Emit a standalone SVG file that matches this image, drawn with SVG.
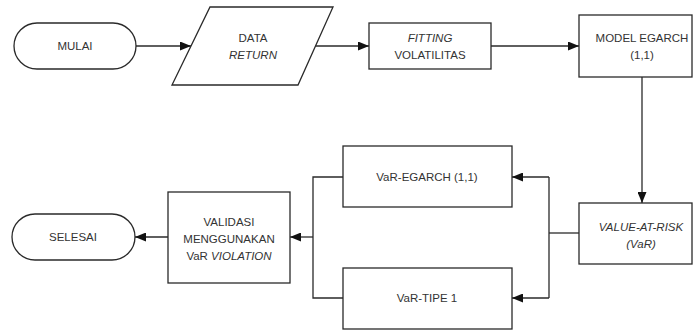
<svg xmlns="http://www.w3.org/2000/svg" width="694" height="331" viewBox="0 0 694 331">
<style>
.s{fill:#fff;stroke:#2a2a2a;stroke-width:1.3}
.t{font-family:"Liberation Sans",Arial,sans-serif;font-size:11.5px;fill:#333;text-anchor:middle}
.i{font-style:italic}
.c{fill:none;stroke:#2a2a2a;stroke-width:1.3}
</style>
<defs>
<marker id="ah" markerUnits="userSpaceOnUse" markerWidth="11" markerHeight="9" refX="11" refY="4.5" orient="auto">
<path d="M0,0 L11,4.5 L0,9 z" fill="#111"/>
</marker>
</defs>
<rect width="694" height="331" fill="#fff"/>
<g id="connectors">
<line class="c" x1="136" y1="46" x2="191" y2="46" marker-end="url(#ah)"/>
<line class="c" x1="315.5" y1="46" x2="369" y2="46" marker-end="url(#ah)"/>
<line class="c" x1="491" y1="46" x2="579" y2="46" marker-end="url(#ah)"/>
<line class="c" x1="642" y1="77" x2="642" y2="203" marker-end="url(#ah)"/>
<polyline class="c" points="579,233 549,233"/>
<polyline class="c" points="549,177 549,298"/>
<line class="c" x1="549" y1="177" x2="512" y2="177" marker-end="url(#ah)"/>
<line class="c" x1="549" y1="298" x2="512" y2="298" marker-end="url(#ah)"/>
<polyline class="c" points="343,177 313,177 313,298 343,298"/>
<line class="c" x1="313" y1="237" x2="290" y2="237" marker-end="url(#ah)"/>
<line class="c" x1="168" y1="237" x2="135" y2="237" marker-end="url(#ah)"/>
</g>
<g id="mulai">
<rect class="s" x="14" y="23" width="122" height="46" rx="23"/>
<text class="t" x="75" y="50">MULAI</text>
</g>
<g id="data-return">
<polygon class="s" points="210,7 333,7 298,85 172,85"/>
<text class="t" x="253" y="42">DATA</text>
<text class="t i" x="253" y="59">RETURN</text>
</g>
<g id="fitting">
<rect class="s" x="369" y="23" width="122" height="46"/>
<text class="t i" x="430" y="42">FITTING</text>
<text class="t" x="430" y="59">VOLATILITAS</text>
</g>
<g id="model">
<rect class="s" x="579" y="15" width="113" height="62"/>
<text class="t" x="642" y="42">MODEL EGARCH</text>
<text class="t" x="642" y="59">(1,1)</text>
</g>
<g id="var">
<rect class="s" x="579" y="203" width="113" height="61"/>
<text class="t i" x="641" y="231">VALUE-AT-RISK</text>
<text class="t i" x="641" y="248">(VaR)</text>
</g>
<g id="var-egarch">
<rect class="s" x="343" y="146" width="169" height="61"/>
<text class="t" x="427" y="181">VaR-EGARCH (1,1)</text>
</g>
<g id="var-tipe1">
<rect class="s" x="343" y="268" width="169" height="61"/>
<text class="t" x="427" y="302">VaR-TIPE 1</text>
</g>
<g id="validasi">
<rect class="s" x="168" y="192" width="122" height="91"/>
<text class="t" x="229" y="226">VALIDASI</text>
<text class="t" x="229" y="243">MENGGUNAKAN</text>
<text class="t" x="229" y="260">VaR <tspan class="i">VIOLATION</tspan></text>
</g>
<g id="selesai">
<rect class="s" x="12" y="214" width="123" height="46" rx="23"/>
<text class="t" x="73" y="241">SELESAI</text>
</g>
</svg>
